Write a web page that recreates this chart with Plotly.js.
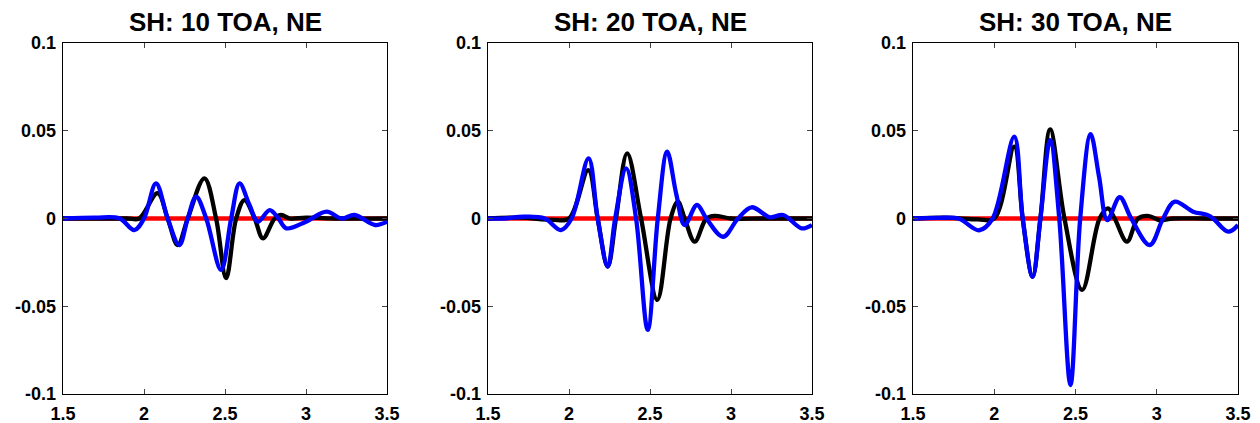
<!DOCTYPE html>
<html>
<head>
<meta charset="utf-8">
<script src="https://cdn.plot.ly/plotly-3.0.1.min.js"></script>
<style>html,body{margin:0;padding:0;background:#fff;}#chart{width:1260px;height:423px;}</style>
</head>
<body>
<div id="chart"></div>
<script>
// ---- data ----
const titles = ["SH: 10 TOA, NE", "SH: 20 TOA, NE", "SH: 30 TOA, NE"];
const xTickVals = [1.5, 2, 2.5, 3, 3.5];
const xTickText = ["1.5", "2", "2.5", "3", "3.5"];
const yTickVals = [0.1, 0.05, 0, -0.05, -0.1];
const yTickText = ["0.1", "0.05", "0", "-0.05", "-0.1"];

const redX = [1.5, 2.0, 2.5, 3.0, 3.5];
const redY = [0, 0, 0, 0, 0];

// panel 1
const black1X = [1.5, 1.7, 1.9, 1.97, 2.084, 2.146, 2.208, 2.27, 2.373, 2.445, 2.507, 2.569, 2.62, 2.683, 2.734, 2.807, 2.848, 2.9, 3.0, 3.2, 3.5];
const black1Y = [0, 0, 0, 0, 0.0144, 0, -0.0151, 0, 0.0229, 0, -0.034, 0, 0.0105, 0, -0.0113, 0, 0.002, 0, 0.0005, 0, 0];
const blue1X = [1.5, 1.7, 1.85, 1.94, 2.0, 2.074, 2.146, 2.218, 2.27, 2.322, 2.384, 2.476, 2.538, 2.59, 2.65, 2.703, 2.776, 2.83, 2.879, 3.0, 3.127, 3.22, 3.30, 3.426, 3.5];
const blue1Y = [0, 0.0005, 0, -0.0066, 0, 0.020, 0, -0.0151, 0, 0.0124, 0, -0.0293, 0, 0.020, 0.008, -0.0018, 0.0048, 0, -0.0056, -0.0018, 0.0039, 0, 0.002, -0.0037, -0.0018];

// panel 2
const black2X = [1.5, 1.7, 1.9, 2.0, 2.119, 2.177, 2.239, 2.29, 2.359, 2.445, 2.545, 2.627, 2.672, 2.714, 2.776, 2.848, 2.9, 3.0, 3.2, 3.5];
const black2Y = [0, 0.0005, -0.0008, 0, 0.0276, 0, -0.0274, 0, 0.0371, 0, -0.0464, 0, 0.0096, 0, -0.0132, 0, 0.0015, 0, 0, 0];
const blue2X = [1.5, 1.6, 1.72, 1.85, 1.95, 2.016, 2.121, 2.177, 2.239, 2.285, 2.353, 2.414, 2.486, 2.548, 2.606, 2.662, 2.714, 2.79, 2.848, 2.951, 3.043, 3.127, 3.24, 3.322, 3.436, 3.5];
const blue2Y = [0, 0, 0.001, 0, -0.0066, 0, 0.0343, 0, -0.0274, 0, 0.0286, 0, -0.0635, 0, 0.0381, 0.014, -0.0037, 0.0077, 0, -0.0104, 0, 0.0064, 0.0007, 0.002, -0.0056, -0.0037];

// panel 3
const black3X = [1.5, 1.7, 1.9, 2.0, 2.123, 2.175, 2.236, 2.284, 2.344, 2.432, 2.541, 2.648, 2.70, 2.741, 2.817, 2.885, 2.952, 3.02, 3.1, 3.3, 3.5];
const black3Y = [0, 0.0005, -0.0005, 0, 0.0409, 0, -0.0332, 0, 0.0508, 0, -0.0407, 0, 0.0058, 0, -0.0132, 0, 0.0014, -0.001, 0, 0, 0];
const blue3X = [1.5, 1.65, 1.78, 1.907, 1.99, 2.123, 2.175, 2.236, 2.284, 2.344, 2.40, 2.469, 2.529, 2.593, 2.645, 2.696, 2.772, 2.843, 2.957, 3.039, 3.111, 3.224, 3.327, 3.44, 3.5];
const blue3Y = [0, 0.0003, 0, -0.0067, 0, 0.0466, 0, -0.0332, 0, 0.0447, 0, -0.0949, 0, 0.0481, 0.0238, -0.0009, 0.0121, 0, -0.0151, 0, 0.0096, 0.0039, 0.0014, -0.0075, -0.0037];

// ---- build ----
const panels = [
  {bx: black1X, by: black1Y, ux: blue1X, uy: blue1Y},
  {bx: black2X, by: black2Y, ux: blue2X, uy: blue2Y},
  {bx: black3X, by: black3Y, ux: blue3X, uy: blue3Y}
];
const W = 1260, H = 423;
const xPix = [[63, 387], [488, 812], [913, 1238]];
const yPix = [43, 394];
const fontFam = "Liberation Sans, Arial, Helvetica, sans-serif";

const traces = [];
const layout = {
  width: W, height: H,
  margin: {l: 0, r: 0, t: 0, b: 0},
  paper_bgcolor: "#fff", plot_bgcolor: "#fff",
  showlegend: false,
  annotations: []
};

panels.forEach((p, i) => {
  const s = i === 0 ? "" : String(i + 1);
  const xa = "x" + s, ya = "y" + s;
  const lineStyle = (c) => ({color: c, width: 4.3, shape: "spline", smoothing: 1});
  traces.push({x: redX, y: redY, xaxis: xa, yaxis: ya, mode: "lines", line: lineStyle("#ff0000"), hoverinfo: "skip"});
  traces.push({x: p.bx, y: p.by, xaxis: xa, yaxis: ya, mode: "lines", line: lineStyle("#000000"), hoverinfo: "skip"});
  traces.push({x: p.ux, y: p.uy, xaxis: xa, yaxis: ya, mode: "lines", line: lineStyle("#0000ff"), hoverinfo: "skip"});

  const dom = [xPix[i][0] / W, xPix[i][1] / W];
  layout["xaxis" + s] = {
    domain: dom, anchor: ya, range: [1.5, 3.5],
    tickmode: "array", tickvals: xTickVals, ticktext: xTickText,
    ticks: "inside", ticklen: 5, tickwidth: 1, tickcolor: "#444",
    showline: true, linecolor: "#000", linewidth: 1.3, mirror: "ticks",
    showgrid: false, zeroline: false,
    ticklabelstandoff: 3,
    tickfont: {family: fontFam, size: 18, color: "#000", weight: "bold"},
    fixedrange: true
  };
  layout["yaxis" + s] = {
    domain: [1 - yPix[1] / H, 1 - yPix[0] / H], anchor: xa, range: [-0.1, 0.1],
    tickmode: "array", tickvals: yTickVals, ticktext: yTickText,
    ticks: "inside", ticklen: 5, tickwidth: 1, tickcolor: "#444",
    showline: true, linecolor: "#000", linewidth: 1.3, mirror: "ticks",
    showgrid: false, zeroline: false,
    ticklabelstandoff: 2,
    tickfont: {family: fontFam, size: 18, color: "#000", weight: "bold"},
    fixedrange: true
  };
  layout.annotations.push({
    text: titles[i], xref: "paper", yref: "paper",
    x: (dom[0] + dom[1]) / 2, y: 1 - 22 / H, xanchor: "center", yanchor: "middle",
    showarrow: false,
    font: {family: fontFam, size: 26, color: "#000", weight: "bold"}
  });
});

Plotly.newPlot("chart", traces, layout, {staticPlot: true, displayModeBar: false});
</script>
</body>
</html>
